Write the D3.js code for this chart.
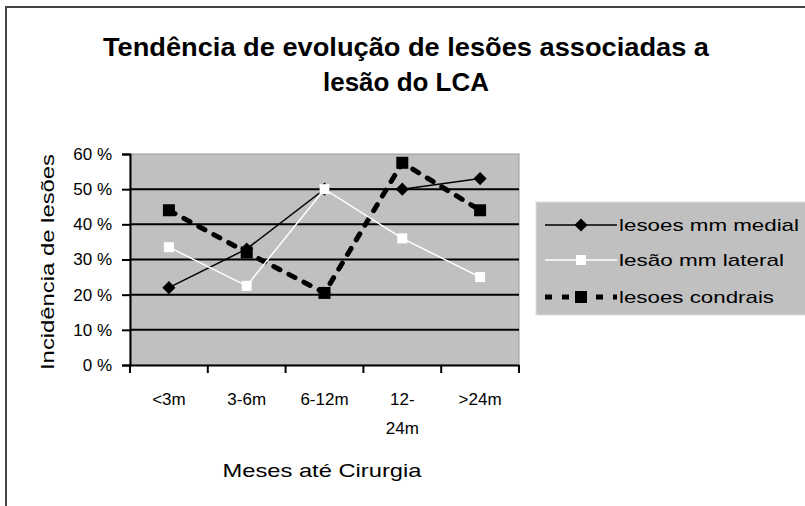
<html>
<head>
<script src="https://d3js.org/d3.v7.min.js"></script>
<style>
body { margin: 0; background: #fff; }
text { font-family: "Liberation Sans", Arial, sans-serif; fill: #000; }
</style>
</head>
<body>
<svg id="chart" width="805" height="506"></svg>
<script>
// data
var categories = ["<3m", "3-6m", "6-12m", "12-24m", ">24m"];
var catLines = [["<3m"], ["3-6m"], ["6-12m"], ["12-", "24m"], [">24m"]];
var medial = [0.22, 0.33, 0.50, 0.50, 0.53];
var lateral = [0.335, 0.225, 0.50, 0.36, 0.25];
var condrais = [0.44, 0.32, 0.205, 0.575, 0.44];
var seriesNames = ["lesoes mm medial", "lesão mm lateral", "lesoes condrais"];
var yTicks = [0, 0.1, 0.2, 0.3, 0.4, 0.5, 0.6];

var svg = d3.select("#chart");

// outer chart border (runs off the right/bottom of the picture)
svg.append("rect")
  .attr("x", 6).attr("y", 7)
  .attr("width", 900).attr("height", 600)
  .attr("fill", "#fff")
  .attr("stroke", "#444").attr("stroke-width", 2);

var pLeft = 130, pRight = 519, pTop = 154, pBottom = 365;

var x = d3.scaleBand().domain(categories).range([pLeft, pRight]);
var y = d3.scaleLinear().domain([0, 0.6]).range([pBottom, pTop]);
var cx = function(i) { return x(categories[i]) + x.bandwidth() / 2; };

// title
var title = svg.append("g");
title.append("text")
  .attr("x", 406).attr("y", 56)
  .attr("text-anchor", "middle")
  .attr("font-size", 25).attr("font-weight", "bold")
  .attr("textLength", 606).attr("lengthAdjust", "spacingAndGlyphs")
  .text("Tendência de evolução de lesões associadas a");
title.append("text")
  .attr("x", 406).attr("y", 91)
  .attr("text-anchor", "middle")
  .attr("font-size", 25).attr("font-weight", "bold")
  .attr("textLength", 166).attr("lengthAdjust", "spacingAndGlyphs")
  .text("lesão do LCA");

// plot area
svg.append("rect")
  .attr("x", pLeft).attr("y", pTop)
  .attr("width", pRight - pLeft).attr("height", pBottom - pTop)
  .attr("fill", "#c0c0c0")
  .attr("stroke", "#9a9a9a").attr("stroke-width", 1);

// gridlines
svg.append("g").selectAll("line")
  .data(yTicks.filter(function(d) { return d > 0 && d < 0.6; }))
  .enter().append("line")
  .attr("x1", pLeft).attr("x2", pRight)
  .attr("y1", function(d) { return y(d); })
  .attr("y2", function(d) { return y(d); })
  .attr("stroke", "#000").attr("stroke-width", 2);

// y axis
var yAxis = svg.append("g")
  .attr("transform", "translate(" + pLeft + ",0)")
  .call(d3.axisLeft(y).tickValues(yTicks).tickSize(8).tickPadding(10)
    .tickFormat(function(d) { return Math.round(d * 100) + " %"; }));
yAxis.select(".domain").attr("stroke", "#000").attr("stroke-width", 2);
yAxis.selectAll(".tick line").attr("stroke", "#000").attr("stroke-width", 2);
yAxis.selectAll("text")
  .attr("font-size", 17).attr("font-family", "Liberation Sans, Arial, sans-serif")
  .attr("fill", "#000");

// x axis: labels from band scale, ticks on band boundaries
var xAxis = svg.append("g")
  .attr("transform", "translate(0," + pBottom + ")")
  .call(d3.axisBottom(x).tickSize(0).tickFormat(""));
xAxis.select(".domain").attr("stroke", "#000").attr("stroke-width", 2);
xAxis.selectAll(".bound")
  .data(categories.map(function(c) { return x(c); }).concat([pRight]))
  .enter().append("line")
  .attr("x1", function(d) { return d; }).attr("x2", function(d) { return d; })
  .attr("y1", 0).attr("y2", 8)
  .attr("stroke", "#000").attr("stroke-width", 2);
xAxis.selectAll(".lab")
  .data(catLines)
  .enter().append("text")
  .attr("text-anchor", "middle")
  .attr("font-size", 17)
  .attr("x", function(d, i) { return cx(i); })
  .attr("y", 40)
  .each(function(d) {
    var t = d3.select(this);
    d.forEach(function(s, k) {
      t.append("tspan").attr("x", t.attr("x")).attr("dy", k === 0 ? 0 : 29).text(s);
    });
  });

// axis titles
svg.append("text")
  .attr("x", 322).attr("y", 477)
  .attr("text-anchor", "middle").attr("font-size", 19)
  .attr("textLength", 199).attr("lengthAdjust", "spacingAndGlyphs")
  .text("Meses até Cirurgia");
svg.append("text")
  .attr("transform", "translate(54,262) rotate(-90)")
  .attr("text-anchor", "middle").attr("font-size", 19)
  .attr("textLength", 216).attr("lengthAdjust", "spacingAndGlyphs")
  .text("Incidência de lesões");

// series
var line = d3.line().x(function(d, i) { return cx(i); }).y(function(d) { return y(d); });

svg.append("path").datum(condrais)
  .attr("d", line).attr("fill", "none")
  .attr("stroke", "#000").attr("stroke-width", 5)
  .attr("stroke-dasharray", "7,10").attr("stroke-linecap", "round");
svg.append("path").datum(medial)
  .attr("d", line).attr("fill", "none")
  .attr("stroke", "#000").attr("stroke-width", 1.5);
svg.append("path").datum(lateral)
  .attr("d", line).attr("fill", "none")
  .attr("stroke", "#fff").attr("stroke-width", 1.5);

var diamond = d3.symbol().type(d3.symbolDiamond2).size(110);
svg.append("g").selectAll("rect")
  .data(condrais).enter().append("rect")
  .attr("x", function(d, i) { return cx(i) - 6; })
  .attr("y", function(d) { return y(d) - 6; })
  .attr("width", 12).attr("height", 12).attr("fill", "#000");
svg.append("g").selectAll("path")
  .data(medial).enter().append("path")
  .attr("d", diamond)
  .attr("transform", function(d, i) { return "translate(" + cx(i) + "," + y(d) + ")"; })
  .attr("fill", "#000");
svg.append("g").selectAll("rect")
  .data(lateral).enter().append("rect")
  .attr("x", function(d, i) { return cx(i) - 5; })
  .attr("y", function(d) { return y(d) - 5; })
  .attr("width", 10).attr("height", 10).attr("fill", "#fff");

// legend
var lg = svg.append("g");
lg.append("rect")
  .attr("x", 536).attr("y", 202).attr("width", 290).attr("height", 113)
  .attr("fill", "#c0c0c0").attr("stroke", "#e0e0e0");
var rows = [225, 260, 297];
var styles = [
  { stroke: "#000", w: 1.5, dash: null },
  { stroke: "#fff", w: 1.5, dash: null },
  { stroke: "#000", w: 5, dash: "7,10" }
];
var legWidths = [180, 165, 155];
seriesNames.forEach(function(name, i) {
  lg.append("line")
    .attr("x1", 545).attr("x2", 617).attr("y1", rows[i]).attr("y2", rows[i])
    .attr("stroke", styles[i].stroke).attr("stroke-width", styles[i].w)
    .attr("stroke-dasharray", styles[i].dash);
  if (i === 0) {
    lg.append("path").attr("d", diamond)
      .attr("transform", "translate(581," + rows[i] + ")").attr("fill", "#000");
  } else if (i === 1) {
    lg.append("rect").attr("x", 576).attr("y", rows[i] - 5)
      .attr("width", 10).attr("height", 10).attr("fill", "#fff");
  } else {
    lg.append("rect").attr("x", 575).attr("y", rows[i] - 6)
      .attr("width", 12).attr("height", 12).attr("fill", "#000");
  }
  lg.append("text")
    .attr("x", 619).attr("y", rows[i] + 6)
    .attr("font-size", 17)
    .attr("textLength", legWidths[i]).attr("lengthAdjust", "spacingAndGlyphs")
    .text(name);
});
</script>
</body>
</html>
